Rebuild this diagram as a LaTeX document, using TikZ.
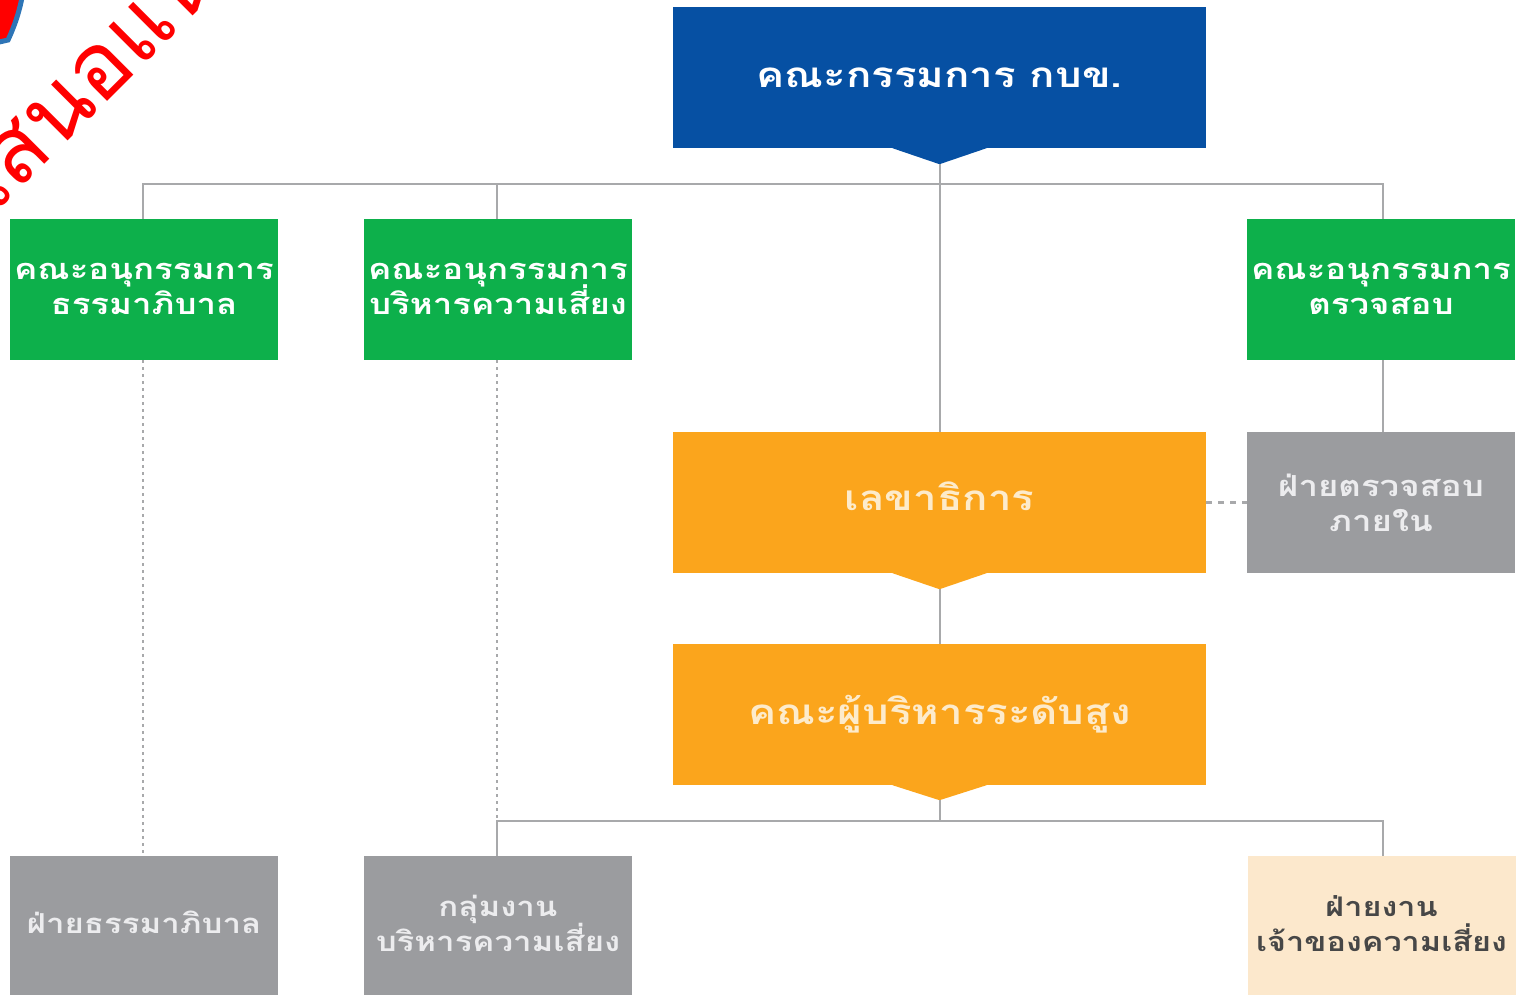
\documentclass[tikz,border=0pt]{standalone}
\usepackage{fontspec}
\newfontfamily\thaifont[Script=Thai]{Loma}
\newfontfamily\thaiwide[Script=Thai,FakeStretch=1.2]{Loma}
\usetikzlibrary{calc}
\definecolor{cblue}{HTML}{0650A3}
\definecolor{cgreen}{HTML}{0DB04B}
\definecolor{corange}{HTML}{FBA51C}
\definecolor{cgray}{HTML}{9B9C9F}
\definecolor{ccream}{HTML}{FCE8CC}
\definecolor{cline}{HTML}{A8A9AB}
\definecolor{paleorange}{HTML}{FDEBCB}
\definecolor{palegray}{HTML}{ECECEE}
\newcommand{\ls}[1]{\rule[-10.5pt]{0pt}{35pt}\smash{#1}}
\newcommand{\lsd}[1]{\rule[-10.5pt]{0pt}{35pt}\smash{\raisebox{-4pt}{#1}}}
\tikzset{
 boxbase/.style={rectangle,inner sep=0pt,align=center,text=white},
 wide/.style={boxbase,minimum width=533pt,minimum height=141pt,font=\thaiwide\bfseries\fontsize{35}{40}\selectfont},
 small/.style={boxbase,minimum width=268pt,minimum height=141pt,font=\thaiwide\bfseries\fontsize{29}{35}\selectfont},
 smallb/.style={small,font=\thaiwide\bfseries\fontsize{27.5}{35}\selectfont},
 link/.style={draw=cline,line width=2pt},
 dotlink/.style={draw=cline,line width=2.4pt,dash pattern=on 3pt off 4pt},
 dashlink/.style={draw=cline,line width=2.4pt,dash pattern=on 6pt off 6pt},
}
\begin{document}
\begin{tikzpicture}[x=1pt,y=-1pt]
\useasboundingbox (0,0) rectangle (1516,994);
\fill[white] (0,0) rectangle (1516,994);
\begin{scope}
\clip (0,0) rectangle (1516,994);
% nodes
\node[wide,fill=cblue] (board) at (939.5,77.5) {\raisebox{-5pt}{คณะกรรมการ กบข.}};
\node[small,fill=cgreen] (gov) at (144,289.5) {\ls{คณะอนุกรรมการ}\\\ls{ธรรมาภิบาล}};
\node[small,fill=cgreen] (risk) at (498,289.5) {\ls{คณะอนุกรรมการ}\\\ls{บริหารความเสี่ยง}};
\node[small,fill=cgreen] (audit) at (1381,289.5) {\ls{คณะอนุกรรมการ}\\\ls{ตรวจสอบ}};
\node[wide,fill=corange,text=paleorange] (sec) at (939.5,502.5) {\raisebox{13pt}{เลขาธิการ}};
\node[small,fill=cgray,text=palegray] (ia) at (1381,502.5) {\lsd{ฝ่ายตรวจสอบ}\\\lsd{ภายใน}};
\node[wide,fill=corange,text=paleorange] (exec) at (939.5,714.5) {\raisebox{4pt}{คณะผู้บริหารระดับสูง}};
\node[smallb,fill=cgray,text=palegray] (fgov) at (144,926.5) {\ls{ฝ่ายธรรมาภิบาล}};
\node[smallb,fill=cgray,text=palegray] (frisk) at (498,926.5) {\ls{กลุ่มงาน}\\\ls{บริหารความเสี่ยง}};
\node[smallb,fill=ccream,text=black!72,font=\thaiwide\bfseries\fontsize{27}{35}\selectfont] (owner) at (1381.5,926.5) {\ls{ฝ่ายงาน}\\\ls{เจ้าของความเสี่ยง}};
% tips
\fill[cblue] ($(board.south)+(-47,0)$) -- ($(board.south)+(0,16)$) -- ($(board.south)+(47,0)$) -- cycle;
\fill[corange] ($(sec.south)+(-47,0)$) -- ($(sec.south)+(0,16)$) -- ($(sec.south)+(47,0)$) -- cycle;
\fill[corange] ($(exec.south)+(-47,0)$) -- ($(exec.south)+(0,15)$) -- ($(exec.south)+(47,0)$) -- cycle;
% bus coordinates
\coordinate (bustop) at (939.5,184);
\coordinate (busbot) at (939.5,821);
\coordinate (audittop) at ($(audit.north)+(2,0)$);
\coordinate (auditbot) at ($(audit.south)+(2,0)$);
\coordinate (iatop) at ($(ia.north)+(2,0)$);
\coordinate (ownertop) at ($(owner.north)+(1.5,0)$);
\coordinate (govtop) at ($(gov.north)+(-1,0)$);
\coordinate (risktop) at ($(risk.north)+(-1,0)$);
\coordinate (riskbot) at ($(risk.south)+(-1,0)$);
\coordinate (govbot) at ($(gov.south)+(-1,0)$);
\coordinate (fgovtop) at ($(fgov.north)+(-1,0)$);
\coordinate (frisktop) at ($(frisk.north)+(-1,0)$);
% connectors
\draw[link] ($(board.south)+(0,16)$) -- (sec.north);
\draw[link] (govtop) |- (bustop);
\draw[link] (risktop) -- (risktop |- bustop);
\draw[link] (audittop) |- (bustop);
\draw[link] (auditbot) -- (iatop);
\draw[link] ($(sec.south)+(0,16)$) -- (exec.north);
\draw[link] ($(exec.south)+(0,15)$) -- (busbot);
\draw[link] (frisktop) |- (busbot);
\draw[link] (ownertop) |- (busbot);
\draw[dotlink] (govbot) -- (fgovtop);
\draw[dotlink] (riskbot) -- (frisktop);
\draw[dashlink] (sec.east |- ia.west) -- (ia.west);
% stamp
\fill[red,draw={rgb,255:red,46;green,117;blue,182},line width=5pt] (-14,45) -- (8,40) .. controls (15,25) and (20,10) .. (23,-8) -- (-14,-8) -- cycle;
\node[text=red,rotate=45,font=\thaifont\fontsize{92}{100}\selectfont,anchor=west,inner sep=0pt] at (-25,196) {เสนอแนะ};
\end{scope}
\end{tikzpicture}
\end{document}
